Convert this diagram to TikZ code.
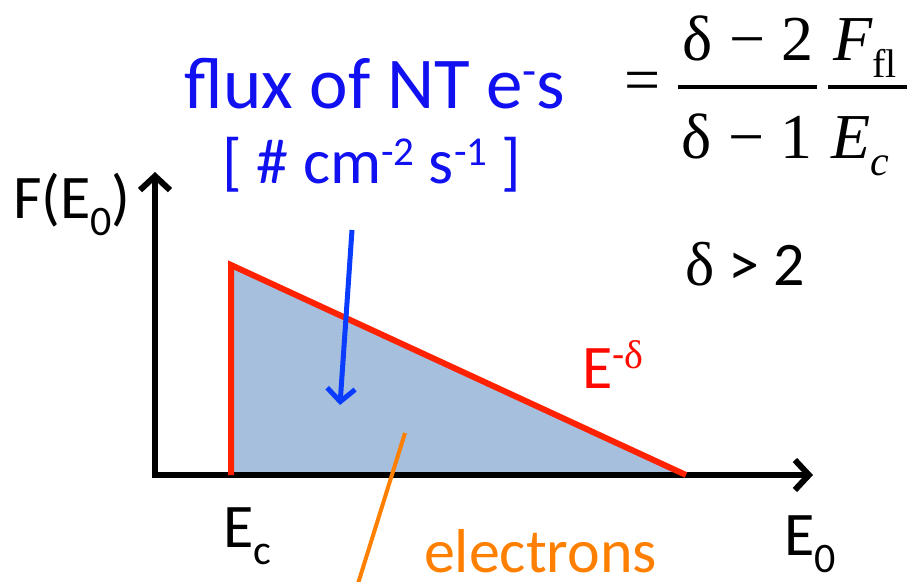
\documentclass[tikz,border=0pt]{standalone}
\usepackage{fontspec}
\setmainfont{Carlito}
\newfontfamily\tms{Liberation Serif}
\usetikzlibrary{arrows.meta}
\definecolor{fillblue}{HTML}{A6BFDD}
\definecolor{redline}{HTML}{FF2200}
\definecolor{redtext}{HTML}{FF0A00}
\definecolor{bluetext}{HTML}{1010F0}
\definecolor{bluearrow}{HTML}{0A3CFF}
\definecolor{orangeline}{HTML}{FF7F00}
\newcommand{\bigtxt}{\fontsize{62}{70}\selectfont}
\newcommand{\mysub}[1]{\raisebox{-17pt}{\fontsize{42}{42}\selectfont #1}}
\newcommand{\mysup}[2][40]{\raisebox{18pt}{\fontsize{#1}{#1}\selectfont #2}}
\tikzset{
  lbl/.style={inner sep=0pt, outer sep=0pt, anchor=base west, font=\bigtxt},
  lblc/.style={inner sep=0pt, outer sep=0pt, anchor=base, font=\bigtxt},
  axisline/.style={line width=6pt, black, {Straight Barb[length=14pt,width=30pt]}-{Straight Barb[length=14pt,width=30pt]}},
  curve/.style={line width=6pt, redline, line join=miter},
  fluxarrow/.style={line width=5pt, bluearrow, -{Straight Barb[length=13pt,width=28pt]}},
  pointer/.style={line width=4pt, orangeline},
  fracrule/.style={line width=4pt, black},
}
\begin{document}
\begin{tikzpicture}[x=1pt,y=-1pt]
\useasboundingbox (0,0) rectangle (907,581);
% coordinates
\coordinate (O) at (155,475);
\coordinate (ytip) at (155,172);
\coordinate (xtip) at (813,475);
\coordinate (cbot) at (231,475);
\coordinate (ctop) at (231,265);
\coordinate (cend) at (686,475);
\coordinate (fa1) at (352,230);
\coordinate (fa2) at (340,405);
\coordinate (op1) at (405,433);
\coordinate (op2) at (356,590);
% shaded area
\fill[fillblue] (ctop) -- (cend) -- (cbot) -- cycle;
% axes
\draw[axisline] (ytip) -- (O) -- (xtip);
% spectrum
\draw[curve] (cbot) -- (ctop) -- (cend);
% arrows
\draw[fluxarrow] (fa1) -- (fa2);
\draw[pointer] (op1) -- (op2);
% labels
\node[lblc, text=bluetext, font=\fontsize{73}{80}\selectfont] (flux) at (375,108) {flux of NT e\raisebox{22pt}{\fontsize{46}{46}\selectfont -}s};
\node[lblc, text=bluetext, font=\fontsize{64}{70}\selectfont] (units) at (372,183) {[ \# cm\mysup[41]{-2} s\mysup[41]{-1} ]};
\node[lbl] (F) at (13,218) {F(E\mysub{0})};
\node[lbl] (Ec) at (223,547) {E\mysub{c}};
\node[lbl] (E0) at (784,555) {E\mysub{0}};
\node[lbl, text=orangeline] (el) at (424,572) {electrons};
\node[lbl, text=redtext] (Ed) at (582,388) {E\raisebox{20pt}{\fontsize{40}{40}\selectfont -{\tms δ}}};
\node[lbl] (d2) at (685,285) {{\tms δ} > 2};
% formula
\node[inner sep=0pt, font=\tms\fontsize{64}{70}\selectfont] (eq) at (643,87) {=};
\node[lblc, font=\tms\fontsize{64}{70}\selectfont] (num) at (748,60) {δ − 2};
\node[lblc, font=\tms\fontsize{64}{70}\selectfont] (den) at (747,158) {δ − 1};
\coordinate (r1a) at (678,87);
\coordinate (r1b) at (817,87);
\coordinate (r2a) at (828,87);
\coordinate (r2b) at (907,87);
\draw[fracrule] (r1a) -- (r1b);
\draw[fracrule] (r2a) -- (r2b);
\node[lbl, font=\tms\itshape\fontsize{64}{70}\selectfont] (Ff) at (833,60) {F\raisebox{-17pt}{\upshape\fontsize{40}{40}\selectfont fl}};
\node[lbl, font=\tms\itshape\fontsize{64}{70}\selectfont] (Ecf) at (831,158) {E\raisebox{-17pt}{\fontsize{42}{42}\selectfont c}};
\end{tikzpicture}
\end{document}
